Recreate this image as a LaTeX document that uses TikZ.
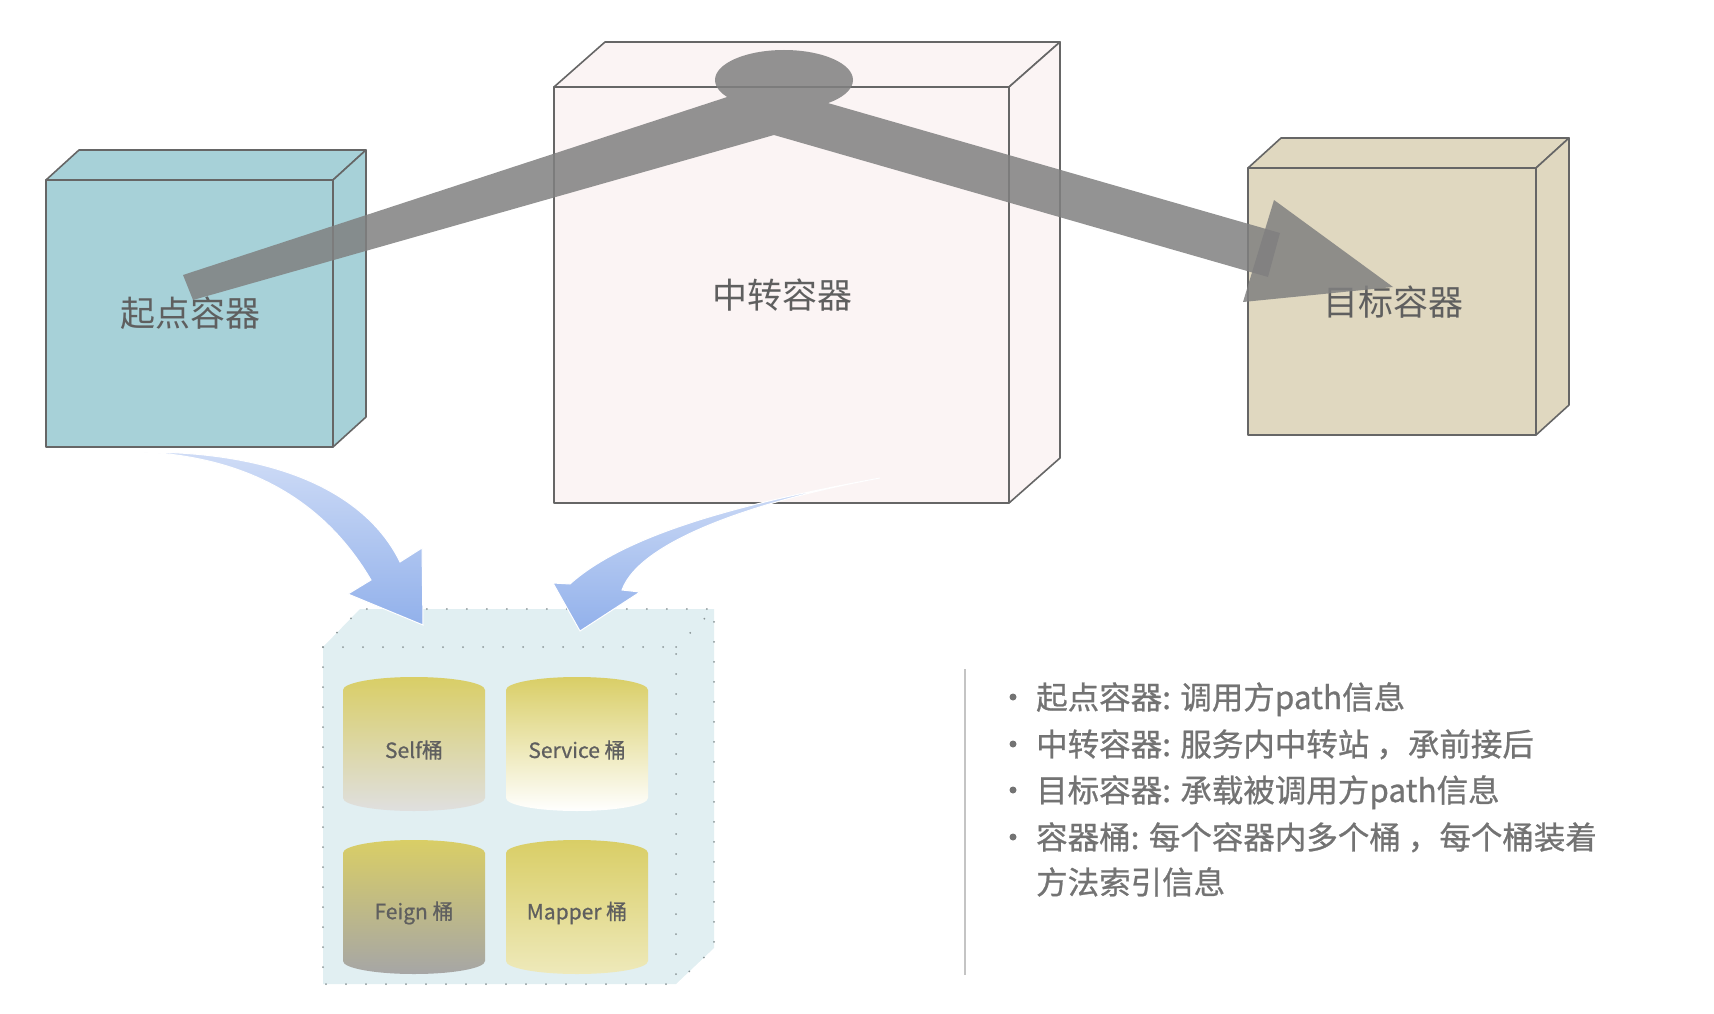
\documentclass[tikz,border=0pt]{standalone}
\usepackage{fontspec}
\usepackage{xcolor}
\usepackage{tikz}
\usetikzlibrary{calc}
\newfontfamily\cjk{Noto Sans CJK SC}
\newfontfamily\cjkthick[FakeBold=0.8]{Noto Sans CJK SC}

\definecolor{srcfill}{HTML}{A7D1D8}
\definecolor{hubfill}{HTML}{FBF4F4}
\definecolor{dstfill}{HTML}{E0D8C0}
\definecolor{edgegray}{HTML}{666666}
\definecolor{flowgray}{HTML}{808080}
\definecolor{labelgray}{HTML}{5F5F5F}
\definecolor{notegray}{HTML}{737373}
\definecolor{sepgray}{HTML}{C4C4C4}
\definecolor{bucketbg}{HTML}{E1EFF2}
\definecolor{dotgray}{HTML}{8A9597}
\definecolor{bucketyellow}{HTML}{D9CE66}
\definecolor{arrowblue}{HTML}{8EAEEA}
\definecolor{arrowpale}{HTML}{EEF2FC}
\definecolor{arrowtip}{HTML}{ABC2F1}

\pgfdeclareverticalshading{bluefade}{100bp}{color(0bp)=(arrowtip); color(22bp)=(arrowblue); color(100bp)=(arrowpale)}

\tikzset{
  cubeedge/.style={draw=edgegray, line width=1.6pt, line join=round},
  boxlabel/.style={font=\cjk\fontsize{35}{40}\selectfont, text=labelgray},
  flow/.style={fill=flowgray, fill opacity=0.85},
  dotline/.style={draw=dotgray, line width=2pt, line cap=round, dash pattern=on 0pt off 20pt},
  bucket/.style={top color=bucketyellow, bottom color=#1},
  bucketlabel/.style={font=\cjkthick\fontsize{21}{24}\selectfont, text=labelgray},
  bluearrow/.style={shading=bluefade, draw=white, line width=1pt},
  note/.style={font=\cjkthick\fontsize{31.5}{36}\selectfont, text=notegray, anchor=base west, inner sep=0pt},
  notedot/.style={circle, fill=notegray, inner sep=0pt, minimum size=7pt},
  sepline/.style={draw=sepgray, line width=1.5pt},
}

% cuboid: x1, y1, x2, y2 of the front face, depth dx, dy, fill
\newcommand{\cuboid}[7]{%
  \filldraw[cubeedge, fill=#7] (#1,#2) -- (#1+#5,#2-#6) -- (#3+#5,#2-#6) -- (#3,#2) -- cycle;
  \filldraw[cubeedge, fill=#7] (#3,#2) -- (#3+#5,#2-#6) -- (#3+#5,#4-#6) -- (#3,#4) -- cycle;
  \filldraw[cubeedge, fill=#7] (#1,#2) rectangle (#3,#4);
}

% bucket: centre x, top y, bottom y, bottom colour
\newcommand{\drawbucket}[4]{%
  \path[bucket=#4] (#1-71,#2) arc[start angle=180, end angle=360, x radius=71, y radius=13]
    -- (#1+71,#3) arc[start angle=0, end angle=180, x radius=71, y radius=13] -- cycle;
}

\begin{document}
\begin{tikzpicture}[x=1pt, y=-1pt]
    \useasboundingbox (0,0) rectangle (1714,1014);

    % Draw the three containers
    \cuboid{46}{180}{333}{447}{33}{30}{srcfill}
    \cuboid{554}{87}{1009}{503}{51}{45}{hubfill}
    \cuboid{1248}{168}{1536}{435}{33}{30}{dstfill}

    \node[boxlabel] (src) at (190,313) {起点容器};
    \node[boxlabel] (hub) at (782,295) {中转容器};
    \node[boxlabel] (dst) at (1393,302) {目标容器};

    % The call path through the hub
    \fill[flow] (193,300) -- (774,135) -- (1268,277) -- (1280,233) -- (800,95) -- (770,83) -- (183,275) -- cycle
      (853,80) arc[start angle=0, end angle=-360, x radius=69, y radius=30];
    \fill[flow] (1274,200) -- (1393,287) -- (1243,302) -- cycle;

    % Bucket container
    \fill[bucketbg] (323,647) -- (360,609) -- (714,609) -- (714,948) -- (676,984) -- (323,984) -- cycle;
    \draw[dotline] (323,647) rectangle (676,984);
    \draw[dotline] (323,647) -- (360,609) -- (714,609) -- (714,948) -- (676,984);
    \draw[dotline] (676,647) -- (714,609);

    % Blue arrows into the buckets
    \path[bluearrow] (144,452) .. controls (290,452) and (370,500) .. (400,562)
      -- (422,548) -- (423,625) -- (348,594) -- (371,580)
      .. controls (330,510) and (260,458) .. (144,452) -- cycle;
    \path[bluearrow] (880,478) .. controls (760,500) and (630,530) .. (570,584)
      -- (553,583) -- (580,631) -- (640,592) -- (622,590)
      .. controls (640,540) and (760,500) .. (880,478) -- cycle;

    % Buckets
    \drawbucket{414}{690}{798}{gray!25}
    \drawbucket{577}{690}{798}{white}
    \drawbucket{414}{853}{961}{gray!70}
    \drawbucket{577}{853}{961}{bucketyellow!45}

    \node[bucketlabel] (self) at (414,750) {Self桶};
    \node[bucketlabel] (service) at (577,750) {Service 桶};
    \node[bucketlabel] (feign) at (414,913) {Feign 桶};
    \node[bucketlabel] (mapper) at (577,913) {Mapper 桶};

    % Notes
    \draw[sepline] (965,669) -- (965,975);
    \node[notedot] (d1) at (1013,697) {};
    \node[notedot] (d2) at (1013,744) {};
    \node[notedot] (d3) at (1013,790) {};
    \node[notedot] (d4) at (1013,837) {};
    \node[note] (n1) at (1036,709) {起点容器: 调用方path信息};
    \node[note] (n2) at (1036,756) {中转容器: 服务内中转站 ，承前接后};
    \node[note] (n3) at (1036,802) {目标容器: 承载被调用方path信息};
    \node[note] (n4) at (1036,849) {容器桶: 每个容器内多个桶 ，每个桶装着};
    \node[note] (n5) at (1036,894) {方法索引信息};
\end{tikzpicture}
\end{document}
